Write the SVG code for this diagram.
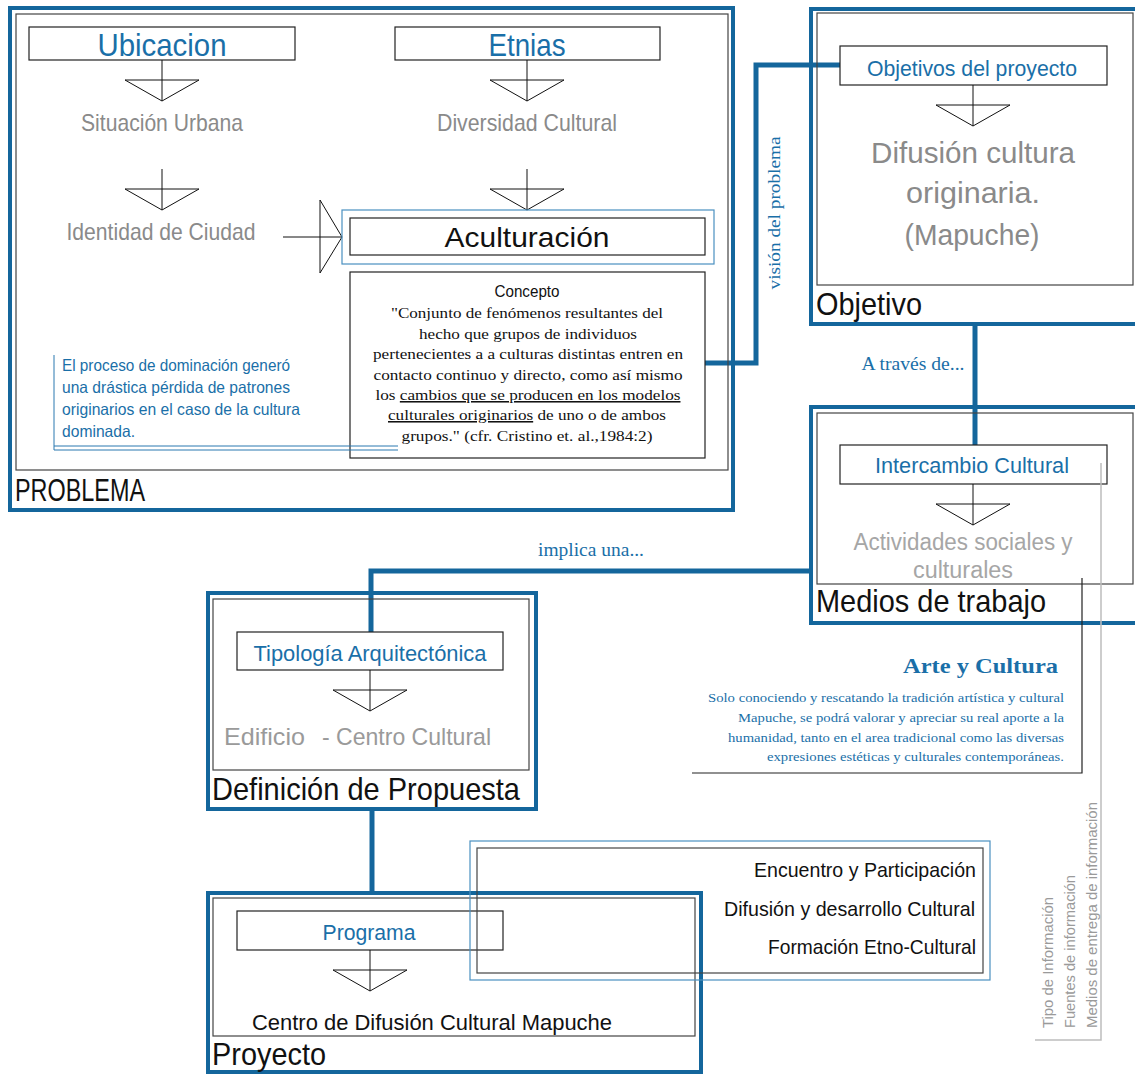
<svg xmlns="http://www.w3.org/2000/svg" xmlns:xlink="http://www.w3.org/1999/xlink" width="1135" height="1075" viewBox="0 0 1135 1075">
<style>
.frame{fill:none;stroke:#14669c;stroke-width:4}
.inner{fill:none;stroke:#444;stroke-width:1.2}
.box{fill:#fff;stroke:#222;stroke-width:1.2}
.lbox{fill:none;stroke:#4a90c0;stroke-width:1.2}
.arr{fill:none;stroke:#111;stroke-width:1}
.conn{fill:none;stroke:#14669c;stroke-width:5}
.thin{fill:none;stroke:#2a78b0;stroke-width:1}
.sans{font-family:"Liberation Sans Narrow","Liberation Sans",Arial,sans-serif}
.serif{font-family:"Liberation Serif","Times New Roman",serif}
.blue{fill:#1a6fa8}
.gray{fill:#8a8a8a}
.lgray{fill:#a6a6a6}
.blk{fill:#111}
</style>
<defs>
<g id="darrow">
<line x1="0" y1="0" x2="0" y2="41" class="arr"/>
<polygon points="-37,20 37,20 0,41" class="arr"/>
</g>
</defs>

<g id="connectors">
<polyline class="conn" points="705,363 756,363 756,65 840,65"/>
<line class="conn" x1="975" y1="325" x2="975" y2="445"/>
<polyline class="conn" points="810,571 371,571 371,632"/>
<line class="conn" x1="372" y1="809" x2="372" y2="893"/>
<text class="serif blue" x="780" y="213" font-size="17" text-anchor="middle" transform="rotate(-90 780 213)" textLength="153" lengthAdjust="spacingAndGlyphs">visión del problema</text>
<text class="serif blue" x="913" y="370" font-size="18" text-anchor="middle" textLength="103" lengthAdjust="spacingAndGlyphs">A través de...</text>
<text class="serif blue" x="591" y="556" font-size="18" text-anchor="middle" textLength="106" lengthAdjust="spacingAndGlyphs">implica una...</text>
</g>

<g id="problema">
<rect class="frame" x="10" y="8" width="723" height="502"/>
<rect class="inner" x="16" y="14" width="712" height="456"/>
<text class="sans blk" x="15" y="501" font-size="32" textLength="130" lengthAdjust="spacingAndGlyphs">PROBLEMA</text>
</g>

<g id="ubicacion">
<rect class="box" x="29" y="27" width="266" height="33"/>
<text class="sans blue" x="162" y="56" font-size="32" text-anchor="middle" textLength="129" lengthAdjust="spacingAndGlyphs">Ubicacion</text>
<use xlink:href="#darrow" x="162" y="60"/>
</g>

<g id="situacion-urbana">
<text class="sans gray" x="162" y="131" font-size="24" text-anchor="middle" textLength="162" lengthAdjust="spacingAndGlyphs">Situación Urbana</text>
<use xlink:href="#darrow" x="162" y="169"/>
</g>

<g id="identidad-ciudad">
<text class="sans gray" x="161" y="240" font-size="24" text-anchor="middle" textLength="189" lengthAdjust="spacingAndGlyphs">Identidad de Ciudad</text>
<line class="arr" x1="283" y1="237" x2="342" y2="237"/>
<polygon class="arr" points="320,200 342,237 320,273"/>
</g>

<g id="etnias">
<rect class="box" x="395" y="27" width="265" height="33"/>
<text class="sans blue" x="527" y="56" font-size="32" text-anchor="middle" textLength="77" lengthAdjust="spacingAndGlyphs">Etnias</text>
<use xlink:href="#darrow" x="527" y="60"/>
</g>

<g id="diversidad-cultural">
<text class="sans gray" x="527" y="131" font-size="24" text-anchor="middle" textLength="180" lengthAdjust="spacingAndGlyphs">Diversidad Cultural</text>
<use xlink:href="#darrow" x="527" y="169"/>
</g>

<g id="aculturacion">
<rect class="lbox" x="342" y="210" width="372" height="54"/>
<rect class="box" x="350" y="218" width="355" height="37"/>
<text class="sans blk" x="527" y="247" font-size="28" text-anchor="middle" textLength="165" lengthAdjust="spacingAndGlyphs">Aculturación</text>
</g>

<g id="concepto">
<rect class="box" x="350" y="272" width="355" height="186"/>
<text class="sans blk" x="527" y="297" font-size="16" text-anchor="middle" textLength="65" lengthAdjust="spacingAndGlyphs">Concepto</text>
<g class="serif blk" font-size="15.5" text-anchor="middle">
<text x="527" y="318" textLength="272" lengthAdjust="spacingAndGlyphs">"Conjunto de fenómenos resultantes del</text>
<text x="528" y="339" textLength="218" lengthAdjust="spacingAndGlyphs">hecho que grupos de individuos</text>
<text x="528" y="359" textLength="310" lengthAdjust="spacingAndGlyphs">pertenecientes a a culturas distintas entren en</text>
<text x="528" y="380" textLength="309" lengthAdjust="spacingAndGlyphs">contacto continuo y directo, como así mismo</text>
<text x="528" y="400" textLength="305" lengthAdjust="spacingAndGlyphs">los <tspan text-decoration="underline">cambios que se producen en los modelos</tspan></text>
<text x="527" y="420" textLength="278" lengthAdjust="spacingAndGlyphs"><tspan text-decoration="underline">culturales originarios</tspan> de uno o de ambos</text>
<text x="527" y="441" textLength="251" lengthAdjust="spacingAndGlyphs">grupos." (cfr. Cristino et. al.,1984:2)</text>
</g>
</g>

<g id="nota-dominacion">
<line class="thin" x1="54" y1="355" x2="54" y2="450"/>
<line class="thin" x1="54" y1="446" x2="398" y2="446"/>
<line class="thin" x1="54" y1="450" x2="398" y2="450"/>
<g class="sans blue" font-size="16.5">
<text x="62" y="371" textLength="228" lengthAdjust="spacingAndGlyphs">El proceso de dominación generó</text>
<text x="62" y="393" textLength="228" lengthAdjust="spacingAndGlyphs">una drástica pérdida de patrones</text>
<text x="62" y="415" textLength="238" lengthAdjust="spacingAndGlyphs">originarios en el caso de la cultura</text>
<text x="62" y="437" textLength="73" lengthAdjust="spacingAndGlyphs">dominada.</text>
</g>
</g>

<g id="objetivo">
<rect class="frame" x="811" y="9" width="340" height="315"/>
<rect class="inner" x="817" y="13" width="316" height="272"/>
<text class="sans blk" x="816" y="315" font-size="32" textLength="106" lengthAdjust="spacingAndGlyphs">Objetivo</text>
</g>

<g id="objetivos-proyecto">
<rect class="box" x="840" y="46" width="267" height="39"/>
<text class="sans blue" x="972" y="76" font-size="22" text-anchor="middle" textLength="210" lengthAdjust="spacingAndGlyphs">Objetivos del proyecto</text>
<use xlink:href="#darrow" x="973" y="85"/>
</g>

<g id="difusion-cultura">
<g class="sans gray" font-size="30" text-anchor="middle">
<text x="973" y="163" textLength="204" lengthAdjust="spacingAndGlyphs">Difusión cultura</text>
<text x="973" y="203" textLength="134" lengthAdjust="spacingAndGlyphs">originaria.</text>
<text x="972" y="245" textLength="135" lengthAdjust="spacingAndGlyphs">(Mapuche)</text>
</g>
</g>

<g id="medios-trabajo">
<rect class="frame" x="811" y="407" width="340" height="216"/>
<rect class="inner" x="817" y="413" width="316" height="171"/>
<text class="sans blk" x="816" y="612" font-size="32" textLength="230" lengthAdjust="spacingAndGlyphs">Medios de trabajo</text>
</g>

<g id="intercambio-cultural">
<rect class="box" x="840" y="445" width="267" height="39"/>
<text class="sans blue" x="972" y="473" font-size="22" text-anchor="middle" textLength="194" lengthAdjust="spacingAndGlyphs">Intercambio Cultural</text>
<use xlink:href="#darrow" x="973" y="484"/>
</g>

<g id="actividades">
<text class="sans lgray" x="963" y="550" font-size="23" text-anchor="middle" textLength="219" lengthAdjust="spacingAndGlyphs">Actividades sociales y</text>
<text class="sans lgray" x="963" y="578" font-size="23" text-anchor="middle" textLength="100" lengthAdjust="spacingAndGlyphs">culturales</text>
</g>

<g id="arte-cultura">
<polyline fill="none" stroke="#222" stroke-width="1.2" points="1082,578 1082,773 692,773"/>
<text class="serif blue" x="1058" y="673" font-size="22" font-weight="bold" text-anchor="end" textLength="155" lengthAdjust="spacingAndGlyphs">Arte y Cultura</text>
<g class="serif blue" font-size="13.5" text-anchor="end">
<text x="1064" y="702" textLength="356" lengthAdjust="spacingAndGlyphs">Solo conociendo y rescatando la tradición artística y cultural</text>
<text x="1064" y="722" textLength="326" lengthAdjust="spacingAndGlyphs">Mapuche, se podrá valorar y apreciar su real aporte a la</text>
<text x="1064" y="742" textLength="336" lengthAdjust="spacingAndGlyphs">humanidad, tanto en el area tradicional como las diversas</text>
<text x="1064" y="761" textLength="297" lengthAdjust="spacingAndGlyphs">expresiones estéticas y culturales contemporáneas.</text>
</g>
</g>

<g id="informacion">
<polyline fill="none" stroke="#bdbdbd" stroke-width="1.5" points="1101,463 1101,1040 1035,1040"/>
<g class="sans" fill="#9a9a9a" font-size="15.5">
<text x="1053" y="1028" transform="rotate(-90 1053 1028)" textLength="131" lengthAdjust="spacingAndGlyphs">Tipo de Información</text>
<text x="1075" y="1028" transform="rotate(-90 1075 1028)" textLength="153" lengthAdjust="spacingAndGlyphs">Fuentes de información</text>
<text x="1097" y="1028" transform="rotate(-90 1097 1028)" textLength="226" lengthAdjust="spacingAndGlyphs">Medios de entrega de información</text>
</g>
</g>

<g id="definicion-propuesta">
<rect class="frame" x="208" y="593" width="328" height="216"/>
<rect class="inner" x="213" y="599" width="316" height="171"/>
<text class="sans blk" x="212" y="800" font-size="32" textLength="308" lengthAdjust="spacingAndGlyphs">Definición de Propuesta</text>
</g>

<g id="tipologia">
<rect class="box" x="237" y="632" width="266" height="38"/>
<text class="sans blue" x="370" y="661" font-size="22" text-anchor="middle" textLength="233" lengthAdjust="spacingAndGlyphs">Tipología Arquitectónica</text>
<use xlink:href="#darrow" x="370" y="670"/>
</g>

<g id="edificio">
<text class="sans" fill="#9a9a9a" y="745" font-size="24"><tspan x="224" textLength="81" lengthAdjust="spacingAndGlyphs">Edificio</tspan><tspan x="322" textLength="169" lengthAdjust="spacingAndGlyphs">- Centro Cultural</tspan></text>
</g>

<g id="proyecto">
<rect class="frame" x="208" y="893" width="493" height="179"/>
<rect class="inner" x="213" y="898" width="482" height="138"/>
<text class="sans blk" x="212" y="1065" font-size="32" textLength="114" lengthAdjust="spacingAndGlyphs">Proyecto</text>
</g>

<g id="programa">
<rect x="237" y="911" width="266" height="39" fill="none" stroke="#222" stroke-width="1.2"/>
<text class="sans blue" x="369" y="940" font-size="22" text-anchor="middle" textLength="93" lengthAdjust="spacingAndGlyphs">Programa</text>
<use xlink:href="#darrow" x="370" y="950"/>
</g>

<g id="centro-difusion">
<text class="sans blk" x="252" y="1030" font-size="22" textLength="360" lengthAdjust="spacingAndGlyphs">Centro de Difusión Cultural Mapuche</text>
</g>

<g id="encuentro">
<rect class="lbox" x="470" y="841" width="520" height="139"/>
<rect class="inner" x="477" y="848" width="506" height="125"/>
<g class="sans blk" font-size="21" text-anchor="end">
<text x="976" y="877" textLength="222" lengthAdjust="spacingAndGlyphs">Encuentro y Participación</text>
<text x="975" y="916" textLength="251" lengthAdjust="spacingAndGlyphs">Difusión y desarrollo Cultural</text>
<text x="976" y="954" textLength="208" lengthAdjust="spacingAndGlyphs">Formación Etno-Cultural</text>
</g>
</g>
</svg>
